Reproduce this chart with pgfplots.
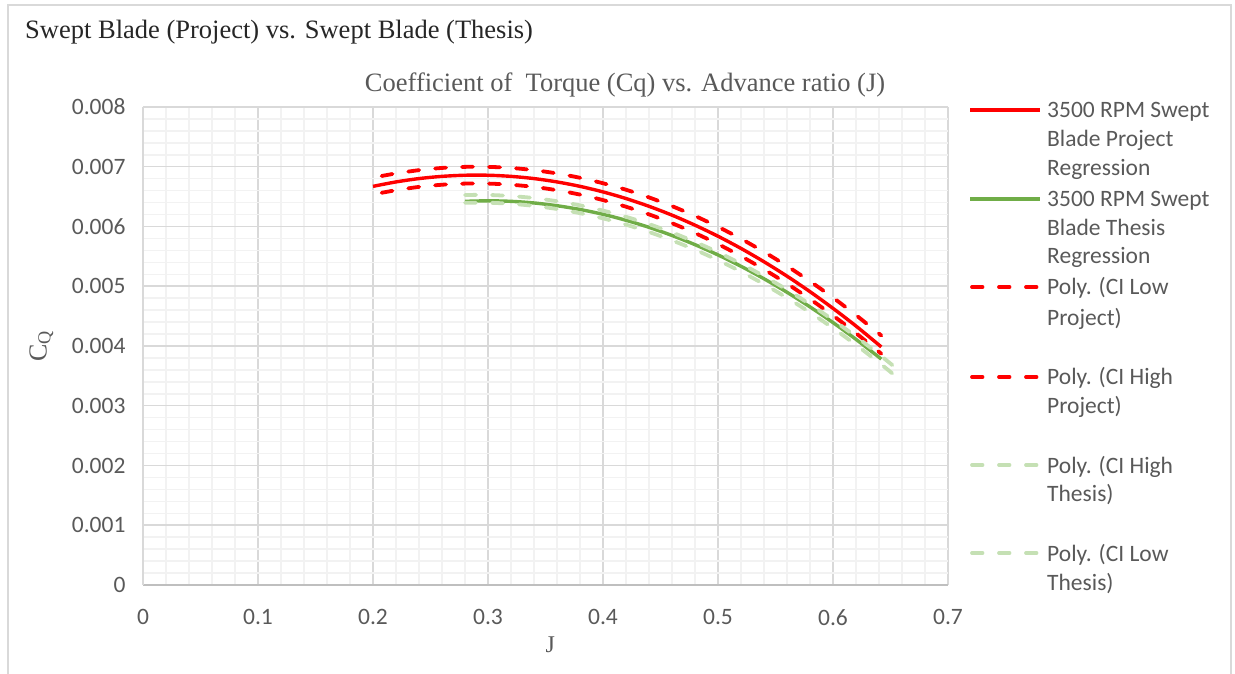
\documentclass[border=0pt]{standalone}
\usepackage{fontspec}
\usepackage{pgfplots}
\pgfplotsset{compat=1.18}
\setmainfont{Liberation Serif}
\newfontfamily\calibri{Carlito}
\definecolor{txt}{HTML}{595959}
\definecolor{majgrid}{HTML}{D9D9D9}
\definecolor{mingrid}{HTML}{F2F2F2}
\definecolor{axln}{HTML}{BFBFBF}
\definecolor{exred}{HTML}{FF0000}
\definecolor{exgreen}{HTML}{70AD47}
\definecolor{exlgreen}{HTML}{C5E0B4}
\tikzset{
  solidred/.style={exred, line width=3.4pt},
  solidgreen/.style={exgreen, line width=3.4pt},
  dashred/.style={exred, line width=3.8pt, line cap=round, dash pattern=on 11pt off 16pt},
  dashlgreen/.style={exlgreen, line width=3.8pt, line cap=round, dash pattern=on 11pt off 16pt},
  legtxt/.style={anchor=base west, inner sep=0pt, font=\calibri\fontsize{23.5}{29}\selectfont, text=txt},
}
\begin{document}
\begin{tikzpicture}[x=1pt,y=1pt]
\useasboundingbox (0,0) rectangle (1235,674);
\draw[majgrid, line width=1.5pt] (8,-5) -- (8,669) -- (1231,669) -- (1231,-5);
\node[anchor=west, inner sep=0pt, font=\fontsize{26.5}{30}\selectfont, text=black!85] at (25,642) {Swept Blade (Project) vs. Swept Blade (Thesis)};
\begin{axis}[
  at={(143pt,89pt)}, anchor=south west,
  width=805pt, height=478pt, scale only axis,
  xmin=0, xmax=0.7, ymin=0, ymax=0.008,
  xtick={0,0.1,0.2,0.3,0.4,0.5,0.6,0.7},
  xticklabels={0,0.1,0.2,0.3,0.4,0.5,0.6,0.7},
  ytick={0,0.001,0.002,0.003,0.004,0.005,0.006,0.007,0.008},
  yticklabels={0,0.001,0.002,0.003,0.004,0.005,0.006,0.007,0.008},
  scaled y ticks=false, scaled x ticks=false,
  minor x tick num=4, minor y tick num=4,
  major tick length=0pt, minor tick length=0pt,
  grid=both,
  major grid style={draw=majgrid, line width=1.5pt},
  minor grid style={draw=mingrid, line width=1.5pt},
  axis x line=bottom, axis y line=left,
  axis line style={-},
  x axis line style={draw=axln, line width=1.5pt},
  y axis line style={draw=majgrid, line width=1.5pt},
  tick label style={font=\calibri\fontsize{23.5}{28}\selectfont, text=txt},
  xticklabel style={yshift=-21pt},
  yticklabel style={xshift=-14pt},
  title={Coefficient of\ \ Torque (Cq) vs. Advance ratio (J)},
  title style={at={(axis description cs:0.5988,1.0335)}, anchor=center, font=\fontsize{26.5}{30}\selectfont, text=txt},
  xlabel={J},
  xlabel style={at={(axis description cs:0.506,-0.1255)}, anchor=center, font=\fontsize{24}{28}\selectfont, text=txt},
  ylabel={C\textsubscript{Q}},
  ylabel style={at={(axis description cs:-0.1262,0.5)}, anchor=center, rotate=0, font=\fontsize{26}{30}\selectfont, text=txt},
  clip=false,
]
\addplot[solidred, smooth] coordinates {
(0.20,0.006672) (0.22,0.006746) (0.24,0.006802) (0.26,0.006839) (0.28,0.006858)
(0.30,0.006858) (0.32,0.006839) (0.34,0.006802) (0.36,0.006746) (0.38,0.006672)
(0.40,0.006579) (0.42,0.006468) (0.44,0.006338) (0.46,0.006190) (0.48,0.006022)
(0.50,0.005837) (0.52,0.005633) (0.54,0.005410) (0.56,0.005169) (0.58,0.004909)
(0.60,0.004630) (0.62,0.004334) (0.642,0.003985)};
\addplot[solidgreen, smooth] coordinates {
(0.28,0.006421) (0.30,0.006430) (0.32,0.006421) (0.34,0.006394) (0.36,0.006348)
(0.38,0.006285) (0.40,0.006204) (0.42,0.006104) (0.44,0.005986) (0.46,0.005850)
(0.48,0.005696) (0.50,0.005524) (0.52,0.005334) (0.54,0.005125) (0.56,0.004899)
(0.58,0.004654) (0.60,0.004392) (0.62,0.004111) (0.642,0.003781)};
\addplot[dashred, smooth] coordinates {
(0.2075,0.006564) (0.22,0.006607) (0.24,0.006663) (0.26,0.006699) (0.28,0.006718)
(0.30,0.006718) (0.32,0.006699) (0.34,0.006663) (0.36,0.006607) (0.38,0.006534)
(0.40,0.006442) (0.42,0.006331) (0.44,0.006203) (0.46,0.006055) (0.48,0.005890)
(0.50,0.005706) (0.52,0.005503) (0.54,0.005283) (0.56,0.005043) (0.58,0.004786)
(0.60,0.004510) (0.62,0.004215) (0.642,0.003870)};
\addplot[dashred, smooth] coordinates {
(0.2075,0.006845) (0.22,0.006888) (0.24,0.006943) (0.26,0.006980) (0.28,0.006998)
(0.30,0.006998) (0.32,0.006980) (0.34,0.006943) (0.36,0.006888) (0.38,0.006815)
(0.40,0.006724) (0.42,0.006615) (0.44,0.006487) (0.46,0.006341) (0.48,0.006177)
(0.50,0.005995) (0.52,0.005794) (0.54,0.005575) (0.56,0.005338) (0.58,0.005083)
(0.60,0.004809) (0.62,0.004517) (0.642,0.004175)};
\addplot[dashlgreen, smooth] coordinates {
(0.28,0.006528) (0.30,0.006528) (0.32,0.006510) (0.34,0.006476) (0.36,0.006423)
(0.38,0.006354) (0.40,0.006266) (0.42,0.006162) (0.44,0.006040) (0.46,0.005900)
(0.48,0.005743) (0.50,0.005569) (0.52,0.005377) (0.54,0.005168) (0.56,0.004942)
(0.58,0.004698) (0.60,0.004436) (0.62,0.004157) (0.64,0.003861) (0.658,0.003579)};
\addplot[dashlgreen, smooth] coordinates {
(0.28,0.006398) (0.30,0.006398) (0.32,0.006380) (0.34,0.006345) (0.36,0.006293)
(0.38,0.006223) (0.40,0.006136) (0.42,0.006031) (0.44,0.005908) (0.46,0.005768)
(0.48,0.005611) (0.50,0.005436) (0.52,0.005244) (0.54,0.005034) (0.56,0.004806)
(0.58,0.004562) (0.60,0.004299) (0.62,0.004019) (0.64,0.003722) (0.658,0.003440)};
\end{axis}
% legend (line samples and wrapped entry texts)
\draw[solidred]   (970,564) -- (1040,564);
\draw[solidgreen] (970,475) -- (1040,475);
\draw[dashred, dash pattern=on 10.5pt off 16.5pt]    (972,387) -- (1038,387);
\draw[dashred, dash pattern=on 10.5pt off 16.5pt]    (972,297) -- (1038,297);
\draw[dashlgreen, dash pattern=on 10.5pt off 16.5pt] (972,209) -- (1038,209);
\draw[dashlgreen, dash pattern=on 10.5pt off 16.5pt] (972,121) -- (1038,121);
\node[legtxt] at (1047,556) {3500 RPM Swept};
\node[legtxt] at (1047,527) {Blade Project};
\node[legtxt] at (1047,498) {Regression};
\node[legtxt] at (1047,467) {3500 RPM Swept};
\node[legtxt] at (1047,438) {Blade Thesis};
\node[legtxt] at (1047,410) {Regression};
\node[legtxt] at (1047,379) {Poly. (CI Low};
\node[legtxt] at (1047,348) {Project)};
\node[legtxt] at (1047,289) {Poly. (CI High};
\node[legtxt] at (1047,260) {Project)};
\node[legtxt] at (1047,200) {Poly. (CI High};
\node[legtxt] at (1047,172) {Thesis)};
\node[legtxt] at (1047,112) {Poly. (CI Low};
\node[legtxt] at (1047,83)  {Thesis)};
\end{tikzpicture}
\end{document}
